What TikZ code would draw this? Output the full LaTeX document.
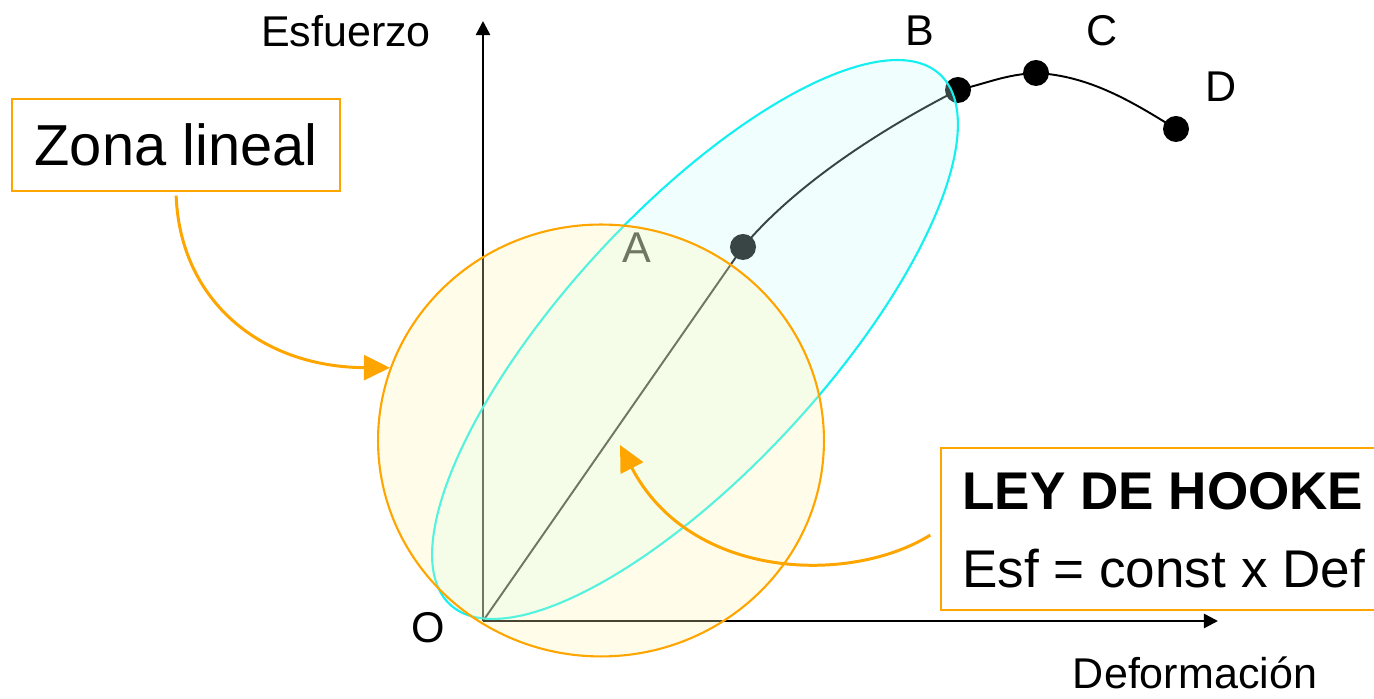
\documentclass[tikz,border=0pt]{standalone}
\usepackage{fontspec}
\setmainfont{Liberation Sans}
\usetikzlibrary{shapes.geometric,arrows.meta}

\definecolor{boxorange}{RGB}{255,165,0}
\definecolor{ellcyan}{RGB}{20,240,240}
\definecolor{cyanfill}{RGB}{205,250,250}
\definecolor{yelfill}{RGB}{255,248,176}

\begin{document}
\begin{tikzpicture}[
  x=0.02cm, y=0.02cm,
  axis/.style={line width=1.4pt, -{Triangle[length=8pt, width=8pt]}},
  curve/.style={line width=1.1pt},
  dot/.style={circle, fill=black, inner sep=0pt, minimum size=0.52cm},
  lbl/.style={inner sep=0pt, anchor=base, font=\fontsize{24.5}{29}\selectfont},
  zone/.style={ellipse, inner sep=0pt, line width=1.2pt, fill opacity=0.28},
  box/.style={rectangle, draw=boxorange, line width=1.2pt, inner sep=0pt},
  boxtxt/.style={inner sep=0pt, anchor=base west, font=\fontsize{30.2}{36}\selectfont},
  callout/.style={draw=boxorange, line width=1.7pt, -{Triangle[length=14.8pt, width=14.2pt]}},
]
\path[use as bounding box] (0,0) rectangle (1374,699);
\clip (0,0) rectangle (1374,699);

% === AXES AND STRESS-STRAIN CURVE ===
\coordinate (O)    at (483,78);
\coordinate (ytip) at (483,678);
\coordinate (xtip) at (1218,78);
\coordinate (A) at (743,452);
\coordinate (B) at (958,609);
\coordinate (C) at (1036,626);
\coordinate (D) at (1176,570);

\draw[axis] (O) -- (ytip);
\draw[axis] (O) -- (xtip);
\draw[curve] (O) -- (A) to[out=50, in=207, looseness=0.8] (B)
  to[out=13, in=183] (C) to[out=-3, in=148, looseness=0.9] (D);

\node[dot] (dotA) at (A) {};
\node[dot] (dotB) at (B) {};
\node[dot] (dotC) at (C) {};
\node[dot] (dotD) at (D) {};

\node[lbl] (esf)  at (346,652) {Esfuerzo};
\node[lbl] (def)  at (1195,10) {Deformación};
\node[lbl] (labO) at (428,56)  {O};
\node[lbl] (labA) at (637,436) {A};
\node[lbl] (labB) at (920,653) {B};
\node[lbl] (labC) at (1102,653) {C};
\node[lbl] (labD) at (1221,597) {D};

% === ELASTIC AND LINEAR ZONES ===
\node[zone, draw=ellcyan, fill=cyanfill, rotate=47.27,
      minimum width=14.44cm, minimum height=5.2cm] (elastic) at (695,359.5) {};
\node[zone, draw=boxorange, fill=yelfill,
      minimum width=8.92cm, minimum height=8.64cm] (lineal) at (601,258.5) {};

% === CALLOUTS ===
\node[box, minimum width=6.56cm, minimum height=1.84cm,
      font=\fontsize{32.9}{40}\selectfont] (zona) at (176,554) {Zona lineal};
\node[box, fill=white, anchor=north west,
      minimum width=9.4cm, minimum height=3.24cm] (hooke) at (940,252) {};
\node[boxtxt, font=\fontsize{30.2}{36}\selectfont\bfseries] (hooketit) at (962,189) {LEY DE HOOKE};
\node[boxtxt] (hookelaw) at (962,111) {Esf = const x Def};

\coordinate (hookept) at (620,254);
\draw[callout, shorten <=2pt] (zona.south) .. controls (180,399) and (260,332) .. (lineal.161);
\draw[callout, shorten <=6.5pt] (hooke.west) .. controls (850,114) and (690,119) .. (hookept);
\end{tikzpicture}
\end{document}
